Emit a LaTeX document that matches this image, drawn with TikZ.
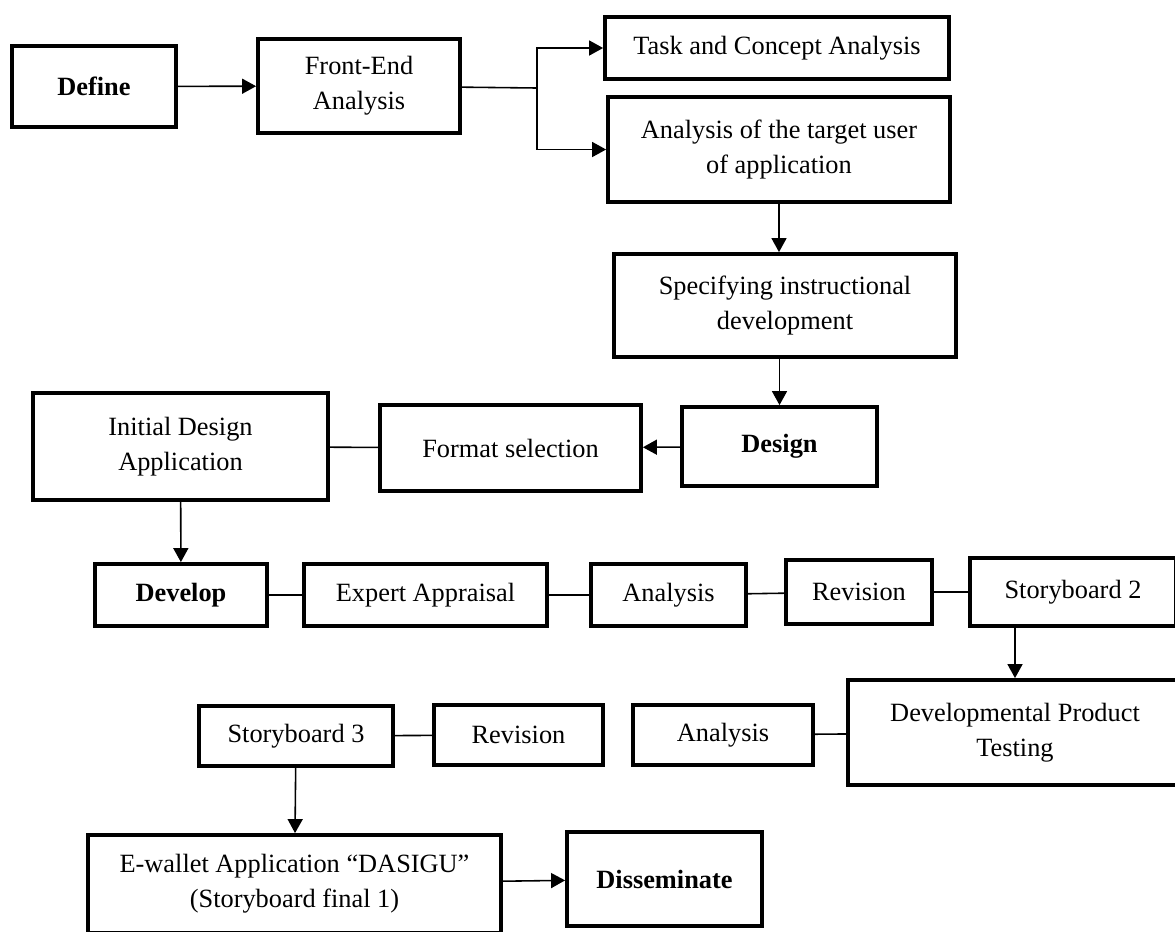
\documentclass[tikz,border=0pt]{standalone}
\usepackage{fontspec}
\setmainfont{Liberation Serif}
\usetikzlibrary{arrows.meta}

\begin{document}
\begin{tikzpicture}[x=0.02cm,y=-0.02cm,
box/.style={rectangle,draw=black,line width=2.2pt,inner sep=0pt,align=center,
font=\fontsize{15}{20}\selectfont},
phase/.style={box,font=\fontsize{15}{20}\selectfont\bfseries},
link/.style={draw=black,line width=0.9pt},
flow/.style={link,-{Triangle[length=0.28cm,width=0.3cm]}}]
    \useasboundingbox (0,0) rectangle (1175,931);
    \node[phase,minimum width=3.28cm,minimum height=1.62cm] (define) at (94,86.5) {Define};
    \node[box,minimum width=4.04cm,minimum height=1.88cm] (frontend) at (359,86) {Front-End\\Analysis};
    \node[box,minimum width=6.88cm,minimum height=1.24cm] (task) at (777,48) {Task and Concept Analysis};
    \node[box,minimum width=6.84cm,minimum height=2.10cm] (target) at (779,149.5) {Analysis of the target user\\of application};
    \node[box,minimum width=6.84cm,minimum height=2.06cm] (specify) at (785,305.5) {Specifying instructional\\development};
    \node[phase,minimum width=3.90cm,minimum height=1.58cm] (design) at (779.5,446.5) {Design};
    \node[box,minimum width=5.22cm,minimum height=1.72cm] (format) at (510.5,448) {Format selection};
    \node[box,minimum width=5.90cm,minimum height=2.14cm] (initial) at (180.5,446.5) {Initial Design\\Application};
    \node[phase,minimum width=3.44cm,minimum height=1.24cm] (develop) at (181,595) {Develop};
    \node[box,minimum width=4.86cm,minimum height=1.24cm] (expert) at (425.5,595) {Expert Appraisal};
    \node[box,minimum width=3.10cm,minimum height=1.24cm] (analysis1) at (668.5,595) {Analysis};
    \node[box,minimum width=2.92cm,minimum height=1.28cm] (revision1) at (859,592) {Revision};
    \node[box,minimum width=4.12cm,minimum height=1.36cm] (story2) at (1073,592) {Storyboard 2};
    \node[box,minimum width=6.68cm,minimum height=2.10cm] (testing) at (1015,732.5) {Developmental Product\\Testing};
    \node[box,minimum width=3.60cm,minimum height=1.20cm] (analysis2) at (723,735) {Analysis};
    \node[box,minimum width=3.38cm,minimum height=1.20cm] (revision2) at (518.5,735) {Revision};
    \node[box,minimum width=3.88cm,minimum height=1.20cm] (story3) at (296,736) {Storyboard 3};
    \node[box,minimum width=8.26cm,minimum height=1.96cm] (ewallet) at (294.5,884) {E-wallet Application ``DASIGU''\\(Storyboard final 1)};
    \node[phase,minimum width=3.90cm,minimum height=1.88cm] (disseminate) at (664.5,879) {Disseminate};
    \coordinate (split) at (537,88);
    \draw[flow] (define) -- (frontend);
    \draw[link] (frontend) -- (split);
    \draw[flow] (split) |- (task);
    \draw[flow] (split) |- (target);
    \draw[flow] (target.south) -- (target.south |- specify.north);
    \draw[flow] (design.north |- specify.south) -- (design.north);
    \draw[flow] (design) -- (format);
    \draw[link] (format) -- (initial);
    \draw[flow] (initial) -- (develop);
    \draw[link] (develop) -- (expert);
    \draw[link] (expert) -- (analysis1);
    \draw[link] (analysis1) -- (revision1);
    \draw[link] (revision1) -- (story2);
    \draw[flow] (testing.north |- story2.south) -- (testing.north);
    \draw[link] (testing) -- (analysis2);
    \draw[link] (revision2) -- (story3);
    \draw[flow] (story3) -- (ewallet);
    \draw[flow] (ewallet) -- (disseminate);
\end{tikzpicture}
\end{document}
